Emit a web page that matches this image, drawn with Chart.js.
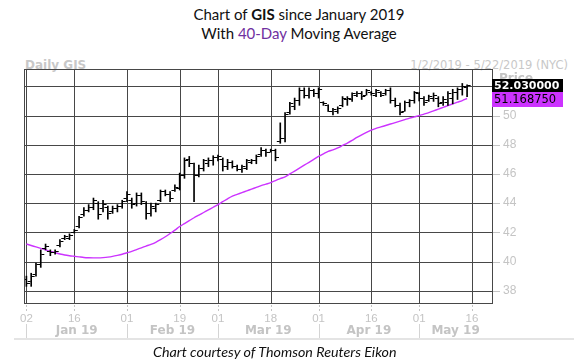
<!DOCTYPE html>
<html>
<head>
<meta charset="utf-8">
<script src="https://cdn.jsdelivr.net/npm/chart.js@4.4.1/dist/chart.umd.min.js"></script>
<style>
html,body{margin:0;padding:0;background:#fff;}
#wrap{position:relative;width:574px;height:364px;overflow:hidden;background:#fff;}
#gridLayer{position:absolute;left:0;top:0;width:574px;height:364px;}
#gridLayer div{position:absolute;}
#c{position:absolute;left:0;top:0;}
.title{position:absolute;left:12px;width:574px;text-align:center;font-family:Lato,"Open Sans",sans-serif;font-size:15px;color:#111;white-space:nowrap;line-height:18px;}
.hdr{position:absolute;top:58px;font-family:"DejaVu Sans",sans-serif;font-size:11.5px;color:#c8c8c8;white-space:nowrap;}
#caption{position:absolute;left:153px;top:343px;font-family:Lato,"Open Sans",sans-serif;font-style:italic;font-size:14.3px;color:#111;white-space:nowrap;line-height:17px;}
#rule{position:absolute;left:14px;right:0;top:338px;height:2px;background:#e4e4e4;}
</style>
</head>
<body>
<div id="wrap">
  <div class="title" style="top:5px;">Chart of <b>GIS</b> since January 2019</div>
  <div class="title" style="top:24px;">With <span style="color:#7030a0">40-Day</span> Moving Average</div>
  <div class="hdr" style="left:25px;font-weight:bold;font-size:12px;">Daily GIS</div>
  <div class="hdr" style="right:6px;">1/2/2019 - 5/22/2019 (NYC)</div>
  <div id="gridLayer"></div>
  <canvas id="c" width="574" height="364"></canvas>
  <div id="rule"></div>
  <div id="caption">Chart courtesy of Thomson Reuters Eikon</div>
</div>
<script>
// ---- data (trading-day index 0 = 2 Jan 2019) ----
const opens  = [38.8,38.6,39.1,39.8,40.9,40.7,40.6,41.1,41.6,41.6,42.0,42.4,43.2,43.5,43.7,44.0,43.6,43.7,43.4,43.6,
                43.8,44.3,44.2,44.0,44.5,44.0,43.3,43.6,44.2,44.8,44.6,44.9,45.0,45.9,47.0,46.7,45.9,46.4,46.7,46.9,
                47.1,47.0,46.5,46.8,46.5,46.3,46.4,46.8,46.9,47.3,47.6,47.5,47.6,48.2,48.4,50.2,50.6,51.0,51.7,51.4,
                51.7,51.5,50.9,50.7,50.3,50.3,50.7,51.1,51.1,51.4,51.5,51.4,51.6,51.4,51.6,51.5,51.7,51.0,50.7,50.3,
                50.9,51.0,51.5,51.2,51.0,51.2,51.2,50.9,50.9,51.2,51.6,51.8,51.9];
const highs  = [39.0,39.2,39.9,40.8,41.2,40.8,40.8,41.5,41.8,41.9,42.2,43.1,43.7,43.9,44.35,44.1,44.2,43.8,43.8,43.9,
                44.2,44.8,44.35,44.7,44.7,44.1,44.0,44.0,44.9,44.9,44.8,45.26,46.06,47.1,47.2,46.75,46.6,47.0,47.1,47.25,
                47.3,47.1,47.0,46.9,46.6,46.6,47.0,47.0,47.3,47.8,47.7,47.7,47.7,49.5,50.2,50.9,51.2,51.9,51.9,51.9,
                51.8,51.9,50.95,50.74,50.5,50.6,51.3,51.3,51.55,51.65,51.65,51.8,51.65,51.8,51.65,51.8,51.9,51.2,50.85,51.0,
                51.1,51.65,51.6,51.3,51.4,51.55,51.3,51.3,51.65,51.8,51.9,52.2,52.1];
const lows   = [38.3,38.3,39.0,39.6,40.8,40.4,40.5,41.0,41.5,41.5,41.95,42.3,43.1,43.4,43.55,42.9,43.4,42.9,43.3,43.4,
                43.65,44.1,43.65,43.8,43.9,42.9,43.1,43.4,44.1,44.5,44.1,44.8,44.9,45.7,46.5,44.1,45.8,46.2,46.5,46.6,
                46.9,46.2,46.3,46.4,46.2,46.1,46.3,46.7,46.7,47.2,47.2,47.5,46.9,48.1,48.2,50.1,50.4,50.7,51.2,51.2,
                51.3,51.2,50.7,50.28,50.05,50.15,50.6,50.7,50.97,51.3,51.1,51.4,51.4,51.3,51.3,51.4,50.85,50.6,50.05,50.3,
                50.6,50.85,51.0,50.7,50.97,50.97,50.6,50.7,50.7,50.8,51.1,51.4,51.3];
const closes = [38.5,39.0,39.8,40.5,41.0,40.6,40.7,41.4,41.7,41.8,42.1,43.0,43.5,43.7,44.2,43.2,43.9,43.3,43.6,43.8,
                44.1,44.6,43.9,44.5,44.1,43.3,43.8,43.9,44.8,44.6,44.3,45.1,45.9,46.9,46.7,45.9,46.4,46.9,46.9,47.1,
                47.2,46.5,46.8,46.5,46.3,46.5,46.9,46.9,47.2,47.6,47.5,47.6,47.1,48.4,50.1,50.8,51.0,51.7,51.4,51.7,
                51.5,51.8,50.8,50.3,50.4,50.5,51.2,51.2,51.5,51.5,51.3,51.7,51.5,51.7,51.4,51.7,51.0,50.7,50.2,50.9,
                51.0,51.6,51.2,50.9,51.3,51.4,50.8,51.1,51.5,51.6,51.8,52.0,52.03];
const movingAvg = [41.20,41.10,41.00,40.90,40.80,40.70,40.60,40.52,40.45,40.40,40.36,40.32,40.28,40.26,40.25,40.25,40.27,40.30,40.35,40.42,
                40.50,40.60,40.70,40.82,40.94,41.06,41.18,41.32,41.50,41.70,41.92,42.15,42.40,42.60,42.80,43.00,43.18,43.36,43.54,43.72,
                43.90,44.10,44.30,44.48,44.60,44.72,44.84,44.96,45.08,45.20,45.30,45.40,45.55,45.68,45.80,46.00,46.20,46.40,46.60,46.80,
                47.00,47.20,47.38,47.55,47.65,47.78,47.95,48.12,48.30,48.50,48.68,48.85,49.00,49.12,49.22,49.32,49.42,49.52,49.62,49.72,
                49.82,49.91,50.00,50.10,50.20,50.32,50.44,50.56,50.68,50.80,50.92,51.03,51.16875];
const dayTickIndex  = [0,10,21,32,40,51,61,72,82,93];
const dayTickLabels = ["02","16","01","19","01","18","01","16","01","16"];
const monthStartIndex = [0,21,40,61,82];
const monthLabels = ["Jan 19","Feb 19","Mar 19","Apr 19","May 19"];
const priceTicks = [38,40,42,44,46,48,50,52];

// ---- styles ----
const GRID = '#474747';
const LIGHT = '#c4c4c4';
const MA_COLOR = '#cc33ff';

function tickImage(side){
  const cv = document.createElement('canvas');
  cv.width = 9; cv.height = 1;
  const g = cv.getContext('2d');
  g.fillStyle = '#000';
  if (side === 'open') g.fillRect(1,0,3,1); else g.fillRect(5,0,3,1);
  return cv;
}

const idx = closes.map((_, i) => i);
const rangeData = idx.map(i => ({x: i, y: [lows[i], highs[i]]}));
const openData  = idx.map(i => ({x: i, y: opens[i]}));
const closeData = idx.map(i => ({x: i, y: closes[i]}));
const maData    = idx.map(i => ({x: i, y: movingAvg[i]}));

function vRule(ctx, px, y1, y2, dash){
  const x0 = Math.round(px);
  if (!dash) { ctx.fillRect(x0, Math.round(y1), 1, Math.round(y2 - y1)); return; }
  for (let yy = Math.round(y1); yy < y2; yy += dash * 2) ctx.fillRect(x0, yy, 1, dash);
}
function hRule(ctx, py, x1, x2){
  ctx.fillRect(Math.round(x1), Math.round(py), Math.round(x2 - x1), 1);
}

const framePlugin = {
  id: 'frame',
  afterDraw(chart){
    const {ctx, chartArea: a} = chart;
    const x = chart.scales.x, y = chart.scales.y;
    ctx.save();
    ctx.globalCompositeOperation = 'destination-over';
    try {
      for (let k = 0; k < dayTickIndex.length; k++) {
        const px = x.getPixelForValue(dayTickIndex[k]);
        ctx.fillStyle = GRID;  vRule(ctx, px, a.top, a.bottom);
        ctx.fillStyle = LIGHT; vRule(ctx, px, a.bottom + 2, a.bottom + 10, 2);
      }
      for (let k = 0; k < priceTicks.length; k++) {
        const py = y.getPixelForValue(priceTicks[k]);
        ctx.fillStyle = GRID;  hRule(ctx, py, a.left, a.right);
        ctx.fillStyle = LIGHT; hRule(ctx, py, a.right, a.right + 8);
      }
    } catch (e) { /* keep drawing the rest */ }
    ctx.globalCompositeOperation = 'source-over';
    ctx.fillStyle = GRID;
    hRule(ctx, a.top, a.left, a.right);
    hRule(ctx, a.bottom, a.left, a.right + 1);
    vRule(ctx, a.left, a.top, a.bottom);
    vRule(ctx, a.right, a.top, a.bottom);
    ctx.fillStyle = '#d4d4d4';
    monthStartIndex.forEach(m => vRule(ctx, x.getPixelForValue(m), a.bottom + 21, a.bottom + 36));
    ctx.fillStyle = LIGHT;
    ctx.font = 'bold 12px "DejaVu Sans", sans-serif';
    ctx.textAlign = 'center'; ctx.textBaseline = 'middle';
    monthStartIndex.forEach((m, k) => {
      const end = k + 1 < monthStartIndex.length ? monthStartIndex[k + 1] : x.max;
      const cx = (x.getPixelForValue(m) + x.getPixelForValue(end)) / 2;
      ctx.fillText(monthLabels[k], cx, a.bottom + 28);
    });
    ctx.textAlign = 'left';
    ctx.fillText('Price', a.right + 7, a.top + 10);
    const lastC = closes[closes.length - 1], lastM = movingAvg[movingAvg.length - 1];
    const yc = y.getPixelForValue(lastC);
    const bw = 71, bh = 13;
    const top1 = Math.round(yc - bh / 2);
    ctx.fillStyle = '#000';
    ctx.fillRect(a.right, top1, bw, bh);
    ctx.fillStyle = '#fff';
    ctx.font = 'bold 11px "DejaVu Sans", sans-serif';
    ctx.fillText(lastC.toFixed(6), a.right + 2, top1 + bh / 2 + 0.5);
    const top2 = Math.max(Math.round(y.getPixelForValue(lastM) - bh / 2), top1 + bh);
    ctx.fillStyle = MA_COLOR;
    ctx.fillRect(a.right, top2, bw, bh + 2);
    ctx.fillStyle = '#000';
    ctx.font = '11.5px "DejaVu Sans", sans-serif';
    ctx.fillText(lastM.toFixed(6), a.right + 2, top2 + bh / 2 + 1.5);
    ctx.restore();
  }
};

const chart = new Chart(document.getElementById('c'), {
  type: 'bar',
  data: {
    datasets: [
      { type: 'line', label: 'MA', data: maData, borderColor: MA_COLOR, borderWidth: 1.4,
        pointRadius: 0, tension: 0.3, fill: false, order: 3 },
      { type: 'bar', label: 'Range', data: rangeData, backgroundColor: '#000',
        barThickness: 1, borderWidth: 0, grouped: false, order: 2 },
      { type: 'line', label: 'Open', data: openData, showLine: false,
        pointStyle: tickImage('open'), pointRadius: 3, order: 1 },
      { type: 'line', label: 'Close', data: closeData, showLine: false,
        pointStyle: tickImage('close'), pointRadius: 3, order: 1 }
    ]
  },
  options: {
    responsive: false,
    animation: false,
    layout: { padding: { left: 24, top: 69, right: 0, bottom: 0 } },
    plugins: { legend: { display: false }, tooltip: { enabled: false }, title: { display: false } },
    scales: {
      x: {
        type: 'linear', position: 'bottom', min: -0.5, max: 97.2, offset: false,
        afterBuildTicks: s => { s.ticks = dayTickIndex.map(v => ({ value: v })); },
        afterFit: s => { s.height = 61; },
        grid: { display: false, offset: false },
        border: { display: false },
        ticks: { autoSkip: false, maxRotation: 0, padding: 1, color: LIGHT,
                 font: { family: '"Liberation Sans", Arial, sans-serif', size: 11.5 },
                 callback: (v, i) => dayTickLabels[i] }
      },
      y: {
        type: 'linear', position: 'right', min: 37.16, max: 53.19,
        afterBuildTicks: s => { s.ticks = priceTicks.map(v => ({ value: v })); },
        afterFit: s => { s.width = 82; },
        grid: { display: false },
        border: { display: false },
        ticks: { padding: 3, color: LIGHT,
                 font: { family: '"Liberation Sans", Arial, sans-serif', size: 12 } }
      }
    }
  },
  plugins: [framePlugin]
});

// Grid layer behind the (transparent) canvas, positioned from the chart's own scales
(function buildGridLayer(){
  const layer = document.getElementById('gridLayer');
  const a = chart.chartArea, x = chart.scales.x, y = chart.scales.y;
  const add = (l, t, w, h, c) => {
    const d = document.createElement('div');
    d.style.left = l + 'px'; d.style.top = t + 'px';
    d.style.width = w + 'px'; d.style.height = h + 'px';
    d.style.background = c;
    layer.appendChild(d);
  };
  dayTickIndex.forEach(v => {
    const px = Math.round(x.getPixelForValue(v));
    add(px, Math.round(a.top), 1, Math.round(a.bottom - a.top), GRID);
    for (let yy = Math.round(a.bottom) + 2; yy < a.bottom + 10; yy += 4) add(px, yy, 1, 2, LIGHT);
  });
  priceTicks.forEach(v => {
    const py = Math.round(y.getPixelForValue(v));
    add(Math.round(a.left), py, Math.round(a.right - a.left), 1, GRID);
    add(Math.round(a.right), py, 8, 1, LIGHT);
  });
})();
</script>
</body>
</html>
